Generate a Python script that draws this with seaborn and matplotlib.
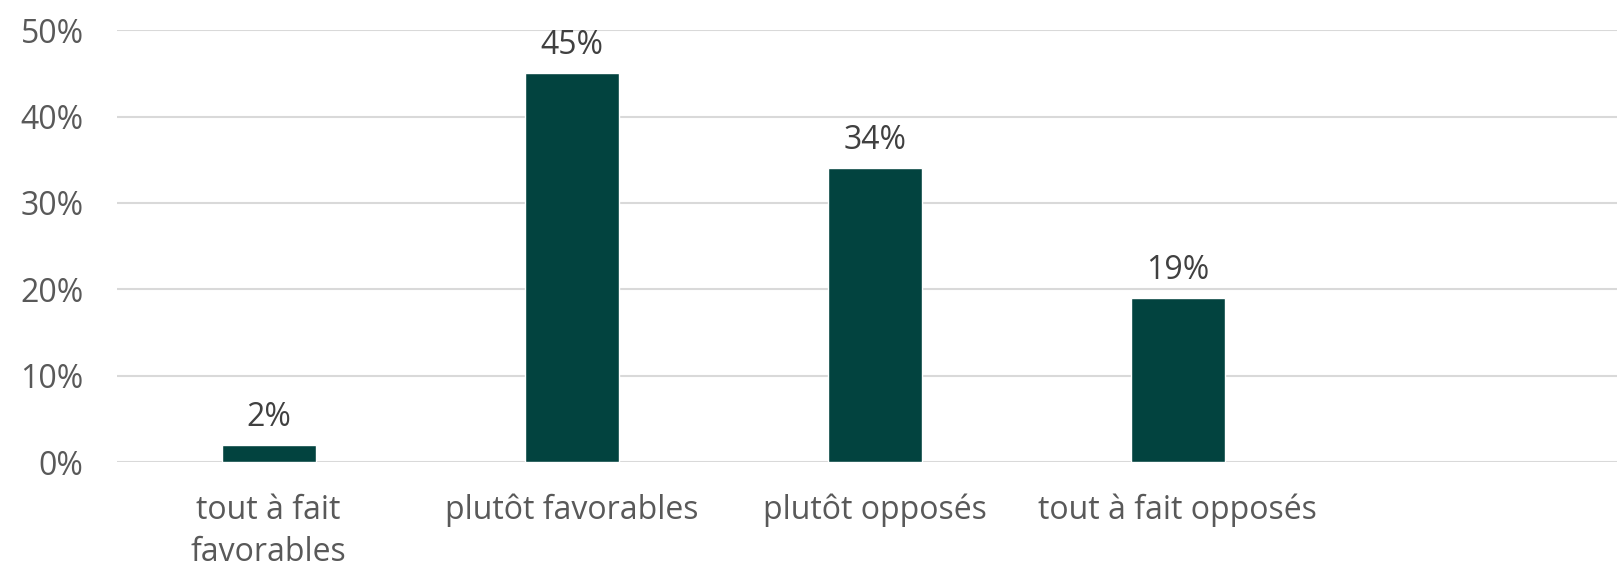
import pandas as pd
import matplotlib.pyplot as plt
import seaborn as sns
from matplotlib.ticker import PercentFormatter

# données
categories = ["tout à fait\nfavorables", "plutôt favorables", "plutôt opposés", "tout à fait opposés"]
values = [0.02, 0.45, 0.34, 0.19]
y_ticks = [0, 0.1, 0.2, 0.3, 0.4, 0.5]

df = pd.DataFrame({"categorie": categories, "part": values})

sns.set_style("white")
plt.rcParams['font.family'] = ['Open Sans', 'DejaVu Sans']

fig = plt.figure(figsize=(16.17, 5.69), dpi=100)
ax = fig.add_axes([0.0724, 0.188, 0.9276, 0.759])

sns.barplot(data=df, x="categorie", y="part", color="#02433f", width=0.31,
            saturation=1, ax=ax, zorder=3)

ax.bar_label(ax.containers[0], labels=[f"{v:.0%}" for v in values],
             padding=8, fontsize=23, color="#404040")

ax.set_ylim(0, 0.5)
ax.set_xlim(-0.5, 4.45)
ax.set_yticks(y_ticks)
ax.yaxis.set_major_formatter(PercentFormatter(1.0, decimals=0))
ax.grid(axis="y", color="#d9d9d9", linewidth=1.5, zorder=0)
ax.set_axisbelow(True)
sns.despine(ax=ax, left=True, bottom=True)

ax.set_xlabel("")
ax.set_ylabel("")
ax.tick_params(axis="y", length=0, pad=24, labelsize=23, labelcolor="#595959")
ax.tick_params(axis="x", length=0, pad=23, labelsize=23, labelcolor="#595959")
for lbl in ax.get_xticklabels():
    lbl.set_linespacing(1.36)

fig.savefig("out.png", dpi=100)
